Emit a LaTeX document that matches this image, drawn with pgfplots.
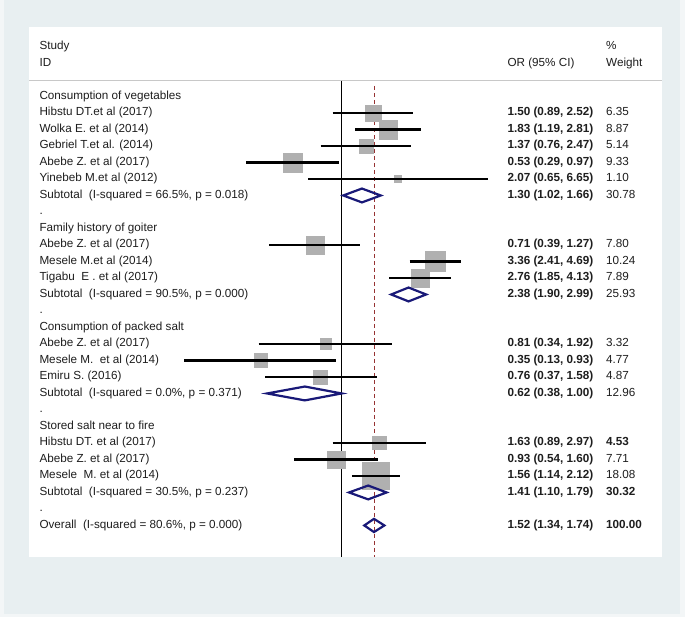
\documentclass[border=0pt]{standalone}
\usepackage{pgfplots}
\usepackage{pgfplotstable}
\pgfplotsset{compat=1.18}
\usepackage{fontspec}
\setmainfont{Liberation Sans}
\definecolor{bgout}{RGB}{243,246,247}
\definecolor{bgin}{RGB}{232,239,241}
\definecolor{sq}{RGB}{176,176,176}
\definecolor{dia}{RGB}{25,25,120}
\definecolor{refred}{RGB}{150,50,50}
\definecolor{txt}{RGB}{30,30,30}
\definecolor{hline}{RGB}{200,200,200}

\pgfplotstableread{
row or lo hi w
2 1.50 0.89 2.52 6.35
3 1.83 1.19 2.81 8.87
4 1.37 0.76 2.47 5.14
5 0.53 0.29 0.97 9.33
6 2.07 0.65 6.65 1.10
10 0.71 0.39 1.27 7.80
11 3.36 2.41 4.69 10.24
12 2.76 1.85 4.13 7.89
16 0.81 0.34 1.92 3.32
17 0.35 0.13 0.93 4.77
18 0.76 0.37 1.58 4.87
22 1.63 0.89 2.97 4.53
23 0.93 0.54 1.60 7.71
24 1.56 1.14 2.12 18.08
}\studies

\newcommand\lab[2]{\node[anchor=mid west,inner sep=0pt] at (axis cs:0.0198,#1) {#2};}
\newcommand\orv[2]{\node[anchor=mid west,inner sep=0pt,font=\fontsize{11.7}{14}\selectfont\bfseries] at (axis cs:8.567,#1) {#2};}
\newcommand\wt[2]{\node[anchor=mid west,inner sep=0pt] at (axis cs:30.82,#1) {#2};}
\newcommand\wtb[2]{\node[anchor=mid west,inner sep=0pt,font=\fontsize{11.7}{14}\selectfont\bfseries] at (axis cs:30.82,#1) {#2};}

\begin{document}
\begin{tikzpicture}[font=\fontsize{11.7}{14}\selectfont, text=txt]
\fill[bgout] (0,0) rectangle (685pt,617pt);
\fill[bgin] (4pt,3pt) rectangle (680pt,617pt);
\fill[white] (29.3pt,59.7pt) rectangle (661.7pt,589.7pt);
\begin{axis}[at={(29.3pt,59.7pt)}, anchor=south west,
  width=632.4pt, height=530pt, scale only axis,
  xmode=log, xmin=0.01739, xmax=63.47,
  ymin=-3.194, ymax=28.93, y dir=reverse,
  hide axis, clip=false, set layers,
  ci/.style={black, line width=2.2pt, on layer=axis foreground},
  dm/.style={dia, line width=2.2pt, line join=miter, on layer=axis foreground}]
% header rule
\addplot[hline, line width=1pt] coordinates {(0.01739,0.061) (63.47,0.061)};
% reference lines
\addplot[black, line width=0.9pt] coordinates {(1,0.061) (1,28.93)};
\addplot[refred, line width=0.7pt, dash pattern=on 4pt off 3pt] coordinates {(1.52,0.36) (1.52,28.93)};
% weight boxes
\addplot[scatter, only marks, mark=square*,
  scatter/use mapped color={draw=sq, fill=sq},
  visualization depends on={3.14*sqrt(\thisrow{w}) \as \msize},
  scatter/@pre marker code/.append style={/tikz/mark size=\msize, /tikz/line width=0pt}]
  table[x=or, y=row] {\studies};
% confidence intervals
\addplot[ci] coordinates {(0.89,2) (2.52,2)};
\addplot[ci] coordinates {(1.19,3) (2.81,3)};
\addplot[ci] coordinates {(0.76,4) (2.47,4)};
\addplot[ci] coordinates {(0.29,5) (0.97,5)};
\addplot[ci] coordinates {(0.65,6) (6.65,6)};
\addplot[ci] coordinates {(0.39,10) (1.27,10)};
\addplot[ci] coordinates {(2.41,11) (4.69,11)};
\addplot[ci] coordinates {(1.85,12) (4.13,12)};
\addplot[ci] coordinates {(0.34,16) (1.92,16)};
\addplot[ci] coordinates {(0.13,17) (0.93,17)};
\addplot[ci] coordinates {(0.37,18) (1.58,18)};
\addplot[ci] coordinates {(0.89,22) (2.97,22)};
\addplot[ci] coordinates {(0.54,23) (1.60,23)};
\addplot[ci] coordinates {(1.14,24) (2.12,24)};
% pooled diamonds
\addplot[dm] coordinates {(1.02,7) (1.30,6.58) (1.66,7) (1.30,7.42)} -- cycle;
\addplot[dm] coordinates {(1.90,13) (2.38,12.58) (2.99,13) (2.38,13.42)} -- cycle;
\addplot[dm] coordinates {(0.38,19) (0.62,18.58) (1.00,19) (0.62,19.42)} -- cycle;
\addplot[dm] coordinates {(1.10,25) (1.41,24.58) (1.79,25) (1.41,25.42)} -- cycle;
\addplot[dm] coordinates {(1.34,27) (1.52,26.6) (1.74,27) (1.52,27.4)} -- cycle;
% header text
\lab{-2}{Study}
\lab{-1}{ID}
\node[anchor=mid west,inner sep=0pt] at (axis cs:8.567,-1) {OR (95\% CI)};
\wt{-2}{\%}
\wt{-1}{Weight}
% left labels
\lab{1}{Consumption of vegetables}
\lab{2}{Hibstu DT.et al (2017)}
\lab{3}{Wolka E. et al (2014)}
\lab{4}{Gebriel T.et al. (2014)}
\lab{5}{Abebe Z. et al (2017)}
\lab{6}{Yinebeb M.et al (2012)}
\lab{7}{Subtotal~\ (I-squared = 66.5\%, p = 0.018)}
\lab{8}{.}
\lab{9}{Family history of goiter}
\lab{10}{Abebe Z. et al (2017)}
\lab{11}{Mesele M.et al (2014)}
\lab{12}{Tigabu~\ E . et al (2017)}
\lab{13}{Subtotal~\ (I-squared = 90.5\%, p = 0.000)}
\lab{14}{.}
\lab{15}{Consumption of packed salt}
\lab{16}{Abebe Z. et al (2017)}
\lab{17}{Mesele M.~\ et al (2014)}
\lab{18}{Emiru S. (2016)}
\lab{19}{Subtotal~\ (I-squared = 0.0\%, p = 0.371)}
\lab{20}{.}
\lab{21}{Stored salt near to fire}
\lab{22}{Hibstu DT. et al (2017)}
\lab{23}{Abebe Z. et al (2017)}
\lab{24}{Mesele~\ M. et al (2014)}
\lab{25}{Subtotal~\ (I-squared = 30.5\%, p = 0.237)}
\lab{26}{.}
\lab{27}{Overall~\ (I-squared = 80.6\%, p = 0.000)}
% OR column
\orv{2}{1.50 (0.89, 2.52)}
\orv{3}{1.83 (1.19, 2.81)}
\orv{4}{1.37 (0.76, 2.47)}
\orv{5}{0.53 (0.29, 0.97)}
\orv{6}{2.07 (0.65, 6.65)}
\orv{7}{1.30 (1.02, 1.66)}
\orv{10}{0.71 (0.39, 1.27)}
\orv{11}{3.36 (2.41, 4.69)}
\orv{12}{2.76 (1.85, 4.13)}
\orv{13}{2.38 (1.90, 2.99)}
\orv{16}{0.81 (0.34, 1.92)}
\orv{17}{0.35 (0.13, 0.93)}
\orv{18}{0.76 (0.37, 1.58)}
\orv{19}{0.62 (0.38, 1.00)}
\orv{22}{1.63 (0.89, 2.97)}
\orv{23}{0.93 (0.54, 1.60)}
\orv{24}{1.56 (1.14, 2.12)}
\orv{25}{1.41 (1.10, 1.79)}
\orv{27}{1.52 (1.34, 1.74)}
% weight column
\wt{2}{6.35}
\wt{3}{8.87}
\wt{4}{5.14}
\wt{5}{9.33}
\wt{6}{1.10}
\wt{7}{30.78}
\wt{10}{7.80}
\wt{11}{10.24}
\wt{12}{7.89}
\wt{13}{25.93}
\wt{16}{3.32}
\wt{17}{4.77}
\wt{18}{4.87}
\wt{19}{12.96}
\wtb{22}{4.53}
\wt{23}{7.71}
\wt{24}{18.08}
\wtb{25}{30.32}
\wtb{27}{100.00}
\end{axis}
\end{tikzpicture}
\end{document}
